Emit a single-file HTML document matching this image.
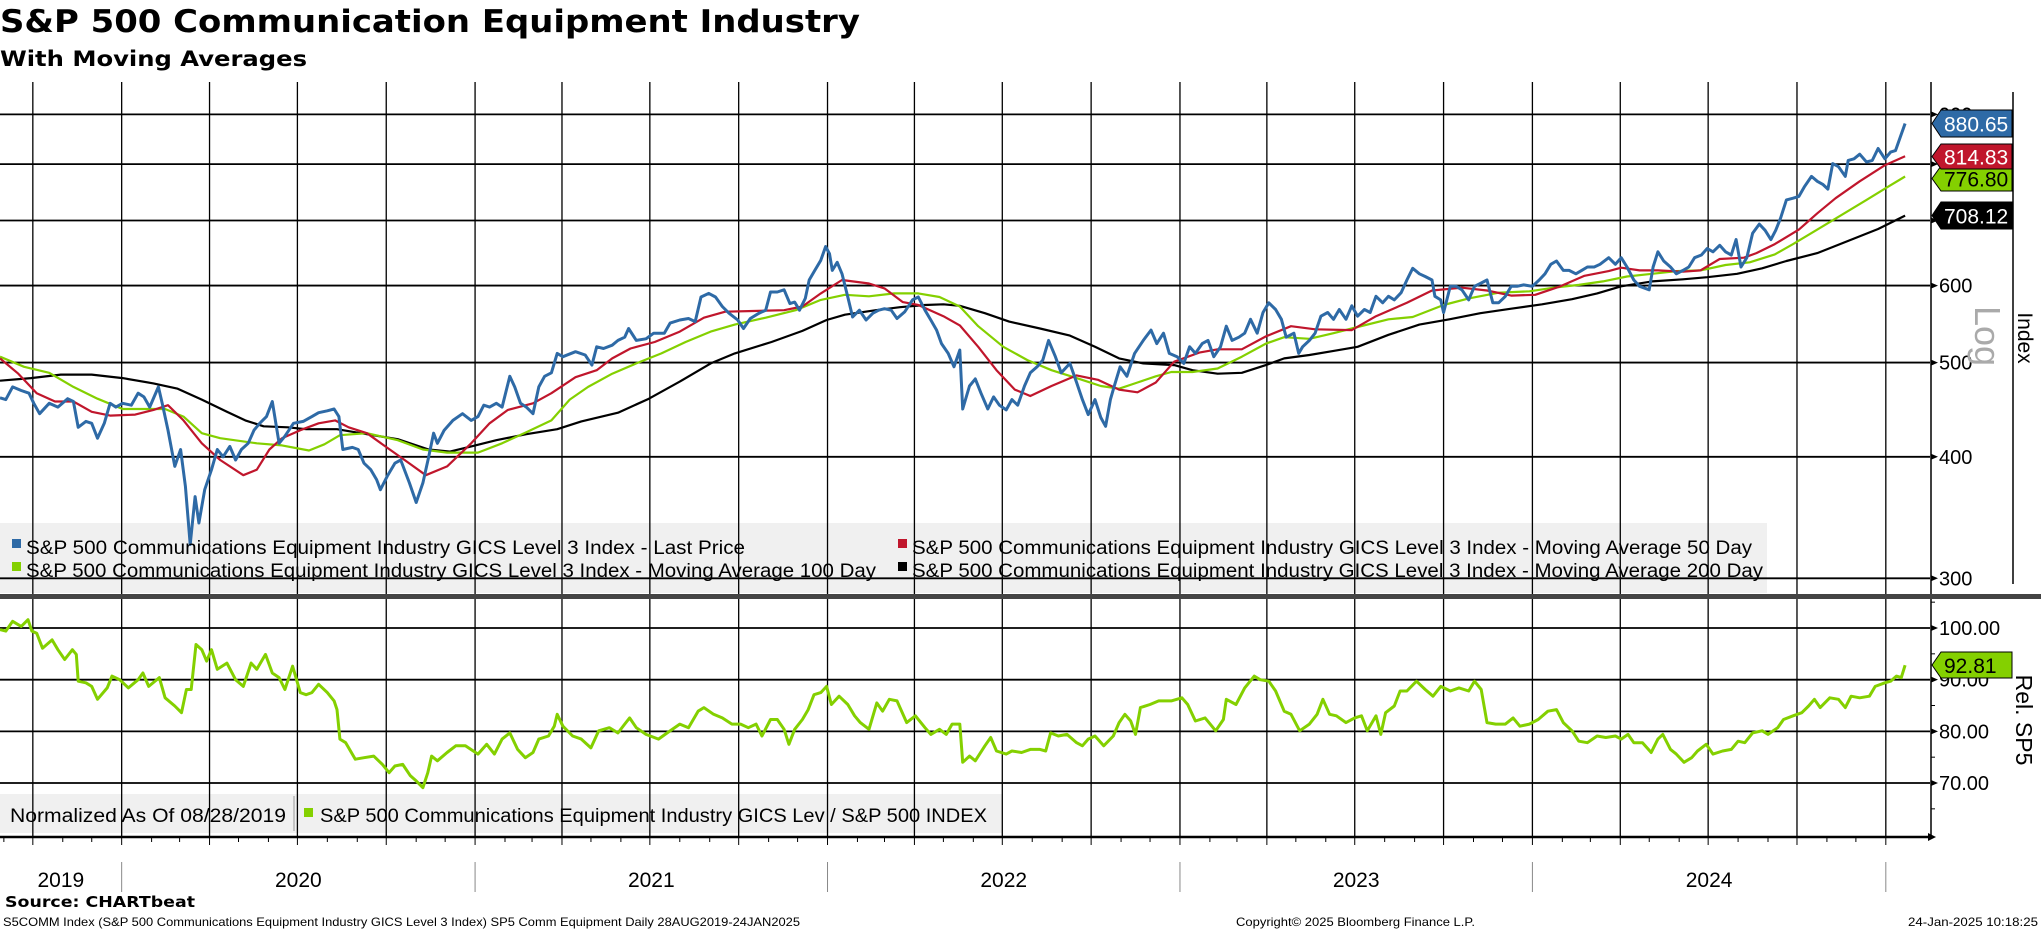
<!DOCTYPE html>
<html><head><meta charset="utf-8">
<style>
html,body{margin:0;padding:0;background:#fff;}
svg{display:block;font-family:"Liberation Sans","DejaVu Sans",sans-serif;}
</style></head>
<body>
<svg id="chart" width="2041" height="932" viewBox="0 0 2041 932" xmlns="http://www.w3.org/2000/svg">
  <text x="0" y="32" font-family="DejaVu Sans, sans-serif" font-weight="bold" font-size="31" textLength="860" lengthAdjust="spacingAndGlyphs">S&amp;P 500 Communication Equipment Industry</text>
  <text x="0" y="66" font-family="DejaVu Sans, sans-serif" font-weight="bold" font-size="21" textLength="307" lengthAdjust="spacingAndGlyphs">With Moving Averages</text>

  <rect x="0" y="523" width="1767" height="70" fill="#f0f0f0"/>
  <rect x="0" y="794" width="1003" height="39" fill="#f0f0f0"/>

  <g id="grid"></g>
  <g id="series"></g>

  <rect x="0" y="594" width="2041" height="5" fill="#444"/>
  <line x1="2013" y1="92" x2="2013" y2="584" stroke="#000" stroke-width="1.5"/>

  <g font-size="19">
    <g>
      <rect x="12" y="539" width="9" height="9" fill="#2e6aa6"/>
      <text x="26" y="554" textLength="719" lengthAdjust="spacingAndGlyphs">S&amp;P 500 Communications Equipment Industry GICS Level 3 Index - Last Price</text>
    </g>
    <g>
      <rect x="898" y="539" width="9" height="9" fill="#c0162c"/>
      <text x="912" y="554" textLength="840" lengthAdjust="spacingAndGlyphs">S&amp;P 500 Communications Equipment Industry GICS Level 3 Index - Moving Average 50 Day</text>
    </g>
    <g>
      <rect x="12" y="562" width="9" height="9" fill="#84d000"/>
      <text x="26" y="577" textLength="850" lengthAdjust="spacingAndGlyphs">S&amp;P 500 Communications Equipment Industry GICS Level 3 Index - Moving Average 100 Day</text>
    </g>
    <g>
      <rect x="898" y="562" width="9" height="9" fill="#000"/>
      <text x="912" y="577" textLength="851" lengthAdjust="spacingAndGlyphs">S&amp;P 500 Communications Equipment Industry GICS Level 3 Index - Moving Average 200 Day</text>
    </g>
  </g>

  <g font-size="19">
    <text x="10" y="822" textLength="276" lengthAdjust="spacingAndGlyphs">Normalized As Of 08/28/2019</text>
    <line x1="294" y1="796" x2="294" y2="831" stroke="#999" stroke-width="1"/>
    <g>
      <rect x="304" y="808" width="9" height="9" fill="#84d000"/>
      <text x="320" y="822" textLength="667" lengthAdjust="spacingAndGlyphs">S&amp;P 500 Communications Equipment Industry GICS Lev / S&amp;P 500 INDEX</text>
    </g>
  </g>

  <g id="axes"></g>

  <text transform="translate(1975,336) rotate(90)" text-anchor="middle" font-size="36" fill="#aaa">Log</text>
  <text transform="translate(2018,338) rotate(90)" text-anchor="middle" font-size="21">Index</text>
  <text transform="translate(2016,720) rotate(90)" text-anchor="middle" font-size="23">Rel. SP5</text>

  <g id="tags"></g>

  <text x="5" y="907" font-family="DejaVu Sans, sans-serif" font-weight="bold" font-size="15" textLength="190" lengthAdjust="spacingAndGlyphs">Source: CHARTbeat</text>
  <text x="3" y="926" font-size="12" textLength="797" lengthAdjust="spacingAndGlyphs">S5COMM Index (S&amp;P 500 Communications Equipment Industry GICS Level 3 Index) SP5 Comm Equipment  Daily 28AUG2019-24JAN2025</text>
  <text x="1236" y="926" font-size="12" textLength="239" lengthAdjust="spacingAndGlyphs">Copyright© 2025 Bloomberg Finance L.P.</text>
  <text x="1908" y="926" font-size="12" textLength="130" lengthAdjust="spacingAndGlyphs">24-Jan-2025 10:18:25</text>
</svg>
<script>
// ---- data (day offsets from 2019-08-28) ----
const priceDays = [0,6,13,22,30,35,41,51,60,70,76,81,89,95,101,108,114,120,127,136,143,149,155,164,168,174,181,187,192,197,202,206,212,219,225,231,238,244,250,257,263,269,276,282,289,295,304,314,323,330,339,346,351,355,365,371,377,384,390,394,401,409,415,424,431,438,444,449,453,460,469,479,488,495,501,507,514,520,528,533,539,545,552,558,564,571,577,583,596,606,613,618,625,634,640,647,651,659,669,677,688,694,704,713,720,726,734,741,748,755,764,770,777,786,793,798,805,812,818,823,828,834,838,843,850,855,859,862,867,872,878,883,890,897,904,910,916,923,929,937,945,951,958,964,970,975,982,988,994,997,1004,1010,1016,1023,1029,1035,1042,1048,1054,1061,1067,1074,1080,1086,1093,1099,1108,1115,1121,1127,1134,1140,1145,1150,1154,1160,1167,1175,1184,1192,1198,1205,1211,1219,1226,1232,1238,1245,1251,1257,1264,1270,1276,1283,1289,1295,1302,1308,1314,1321,1327,1332,1340,1345,1349,1356,1362,1368,1375,1381,1387,1394,1400,1406,1413,1419,1425,1432,1438,1444,1451,1457,1463,1470,1476,1483,1486,1492,1495,1502,1508,1514,1521,1527,1533,1540,1546,1552,1559,1565,1571,1578,1587,1594,1600,1606,1612,1619,1625,1632,1638,1644,1651,1657,1666,1673,1679,1685,1692,1698,1708,1712,1717,1723,1730,1736,1743,1749,1755,1762,1768,1774,1781,1787,1793,1798,1803,1809,1815,1822,1828,1834,1839,1844,1850,1857,1863,1869,1876,1882,1888,1893,1898,1904,1911,1914,1920,1926,1933,1939,1945,1952,1958,1963,1968,1973];
const priceVals = [460,458,472,468,465,454,443,454,450,459,456,429,435,433,418,433,454,450,454,452,465,461,450,472,454,426,391,407,373,325,364,342,370,388,407,400,410,397,407,413,426,433,440,456,413,420,433,435,440,444,446,448,440,407,409,407,394,388,379,370,382,394,397,376,359,376,400,423,413,426,436,443,436,440,452,450,454,450,484,472,454,450,443,472,484,488,511,507,513,509,497,519,517,521,527,531,542,527,529,536,536,549,553,555,551,584,589,584,571,562,553,542,555,562,566,591,591,594,575,577,566,582,608,620,637,658,647,622,634,617,584,557,566,553,562,566,568,566,555,564,580,584,566,553,540,523,511,495,515,448,473,481,465,448,461,452,447,458,452,473,488,495,503,527,507,488,499,477,458,442,458,439,430,458,473,495,484,511,527,540,523,536,511,507,499,519,511,523,527,507,519,545,527,531,536,554,536,563,576,567,554,531,536,511,519,527,536,558,563,554,567,554,572,558,567,563,585,576,585,580,590,608,625,617,613,608,585,580,563,599,599,594,580,599,603,608,576,576,585,599,599,601,599,608,617,631,636,622,622,617,622,627,627,631,641,631,641,627,608,599,594,627,650,636,627,617,622,627,641,645,655,650,660,650,645,669,627,641,679,694,684,669,684,704,735,738,741,759,777,768,762,754,801,795,777,807,810,819,804,807,830,810,823,826,853,880.65];

const ma50Days = [0,19,38,57,76,95,114,140,159,174,190,209,228,252,266,279,292,311,330,347,361,380,399,419,441,463,488,507,526,552,571,596,618,634,653,678,704,729,751,780,812,831,850,872,900,916,935,951,977,994,1013,1032,1051,1067,1089,1115,1137,1159,1178,1197,1216,1242,1261,1286,1311,1337,1362,1400,1425,1457,1483,1514,1540,1565,1590,1616,1641,1666,1679,1698,1717,1743,1761,1781,1806,1819,1838,1863,1882,1901,1926,1952,1973];
const ma50Vals = [505,487,465,456,456,445,441,442,447,452,436,413,397,383,388,407,418,426,433,436,429,423,410,397,383,391,413,433,447,454,465,483,491,505,517,525,538,556,564,565,566,571,589,608,603,596,577,573,558,546,519,491,469,462,473,485,480,469,466,477,501,512,516,516,532,545,541,540,558,576,593,597,593,586,587,599,614,621,626,622,622,620,622,639,641,648,662,685,712,738,768,798,814.83];

const ma100Days = [0,25,51,76,101,127,152,171,190,209,228,266,292,320,336,352,380,412,438,463,495,520,545,571,590,609,634,659,685,710,736,761,793,824,850,875,900,926,951,973,994,1013,1039,1064,1089,1115,1140,1159,1178,1197,1213,1235,1261,1286,1311,1330,1356,1381,1406,1438,1463,1495,1521,1552,1584,1609,1635,1660,1685,1711,1736,1761,1787,1812,1838,1857,1882,1907,1933,1955,1973];
const ma100Vals = [507,495,488,472,459,448,448,448,440,423,418,413,411,406,412,421,423,416,407,404,404,413,424,436,458,472,487,499,511,525,538,547,556,566,580,587,585,589,589,584,571,545,519,503,491,482,473,470,477,484,489,489,493,507,523,531,529,536,544,554,557,573,582,590,592,597,601,606,613,617,621,622,630,634,646,662,685,709,735,758,776.80];

const ma200Days = [0,32,63,95,127,159,184,209,235,254,273,298,317,349,380,412,444,466,488,514,545,577,602,640,672,704,736,761,799,831,856,875,907,932,958,977,994,1020,1045,1077,1108,1134,1159,1184,1216,1235,1261,1286,1311,1330,1356,1381,1406,1438,1470,1501,1533,1565,1597,1628,1654,1679,1711,1743,1768,1799,1825,1850,1882,1914,1945,1973];
const ma200Vals = [479,482,486,486,482,476,470,458,445,436,430,429,427,427,422,417,407,405,410,416,422,427,435,444,459,478,499,511,525,539,553,560,566,570,573,574,572,562,551,542,533,519,505,499,497,491,487,488,497,505,509,514,519,534,547,554,562,568,574,581,589,599,606,609,612,617,625,636,648,667,686,708.12];

const relDays = [0,6,13,22,29,33,38,44,54,60,67,75,79,81,89,95,101,111,116,124,133,143,148,154,165,171,181,188,193,198,203,209,214,219,225,235,244,252,260,266,275,282,289,295,303,311,317,323,330,339,346,349,352,358,368,377,387,396,403,409,417,425,431,438,443,447,453,463,472,482,495,504,512,520,528,536,544,552,558,568,574,577,583,593,602,612,620,631,640,647,652,659,669,682,691,704,713,723,729,739,748,758,767,775,783,789,798,805,812,817,823,831,837,843,850,856,861,869,878,885,891,900,908,914,921,929,939,948,958,964,973,980,986,994,997,1004,1010,1020,1026,1032,1042,1048,1058,1067,1077,1083,1088,1096,1105,1115,1121,1127,1134,1143,1153,1159,1165,1171,1176,1181,1191,1200,1213,1224,1230,1238,1248,1259,1267,1270,1280,1289,1299,1305,1314,1321,1330,1337,1346,1356,1364,1370,1377,1384,1394,1403,1410,1416,1425,1430,1435,1444,1450,1457,1467,1476,1484,1492,1502,1511,1521,1527,1534,1540,1549,1559,1567,1574,1584,1593,1603,1612,1619,1628,1635,1644,1654,1663,1673,1679,1686,1692,1701,1710,1717,1722,1730,1736,1744,1752,1758,1767,1774,1784,1793,1800,1807,1815,1825,1831,1841,1847,1857,1866,1873,1879,1885,1895,1904,1911,1917,1926,1936,1942,1952,1958,1964,1969,1973];
const relVals = [99.7,99.4,101.3,100.3,101.6,99.4,99.0,96.1,97.7,95.8,93.9,95.8,94.9,89.7,89.4,88.7,86.2,88.4,90.7,90.0,88.4,90.0,91.3,88.7,90.4,86.5,84.9,83.6,88.1,88.1,96.8,95.8,93.6,95.8,92.0,93.2,90.0,88.7,93.2,92.0,94.9,91.3,90.4,88.1,92.6,87.5,87.1,87.5,89.1,87.5,85.9,84.2,78.5,77.8,74.6,74.9,75.2,73.6,72.0,73.3,73.6,71.4,70.4,69.1,72.0,75.2,74.3,75.9,77.2,77.2,75.6,77.5,75.6,78.5,79.7,76.5,74.9,75.9,78.5,79.1,81.0,83.3,81.0,79.1,78.5,76.8,80.1,80.7,79.7,81.4,82.6,80.7,79.4,78.5,79.7,81.4,80.7,83.9,84.6,83.3,82.6,81.4,81.4,80.7,81.4,79.1,82.3,82.3,80.4,77.5,80.4,82.3,84.2,87.1,87.5,88.7,85.2,86.8,85.2,83.0,81.7,80.4,85.5,83.9,86.2,85.9,81.7,83.0,80.7,79.4,80.4,79.4,81.4,81.4,74.0,75.2,74.3,77.2,78.8,76.2,75.6,76.2,75.9,76.5,76.5,76.2,79.7,79.1,79.4,77.8,77.2,78.5,79.1,77.2,79.1,81.7,83.3,82.0,79.4,84.6,85.2,85.9,85.9,86.5,85.2,82.0,82.6,80.1,82.3,86.2,85.2,88.4,90.7,90.0,89.7,87.8,83.9,83.3,80.1,81.4,83.3,86.2,83.3,83.0,81.7,82.6,83.0,80.1,83.0,79.4,83.6,84.9,87.8,87.8,89.7,88.1,86.8,88.7,87.8,88.4,87.8,89.7,88.1,81.7,81.4,81.4,82.6,81.0,81.4,82.3,83.9,84.2,81.7,80.1,78.1,77.8,79.1,78.8,79.1,78.5,79.4,77.8,77.8,75.9,78.5,79.4,76.5,75.6,74.0,74.9,76.2,77.5,75.6,76.2,76.5,78.1,77.8,79.7,80.1,79.4,80.7,82.3,83.0,83.6,84.9,86.2,84.6,86.5,86.2,84.6,86.8,86.5,86.8,88.7,89.4,89.7,90.7,90.4,92.81];

const upperTicks = [300,400,500,600,700,800,900];
const upperTickLabels = ["300","400","500","600","700","800","900"];
const lowerTicks = [70,80,90,100];
const lowerTickLabels = ["70.00","80.00","90.00","100.00"];
const yearLabels = ["2019","2020","2021","2022","2023","2024"];

// ---- scales ----
const NS = "http://www.w3.org/2000/svg";
const PX_PER_DAY = 0.9656;
const START = Date.UTC(2019,7,28);
function xDay(d){ return d*PX_PER_DAY; }
function xDate(y,m){ return xDay((Date.UTC(y,m,1)-START)/86400000); }
function yUp(v){ return 578.3 - 422.3*Math.log(v/300); }
function yLow(v){ return 628 + (100 - v)*5.167; }
function mk(tag, attrs, parent){
  const e = document.createElementNS(NS, tag);
  for (const k in attrs) e.setAttribute(k, attrs[k]);
  parent.appendChild(e);
  return e;
}
const grid = document.getElementById('grid');
const series = document.getElementById('series');
const axes = document.getElementById('axes');
const tags = document.getElementById('tags');

// horizontal gridlines
upperTicks.forEach((v,i)=>{
  const l = mk('line',{x1:0,x2:1930,y1:yUp(v),y2:yUp(v),stroke:'#000','stroke-width':1.8},grid);
  
  
});
lowerTicks.forEach((v,i)=>{
  const l = mk('line',{x1:0,x2:1930,y1:yLow(v),y2:yLow(v),stroke:'#000','stroke-width':1.8},grid);
  
  
});
// vertical quarter gridlines & month ticks
for (let y=2019; y<=2025; y++){
  for (let m=0; m<12; m++){
    const x = xDate(y,m);
    if (x < 0 || x > 1905) continue;
    if (m % 3 === 0){
      const l = mk('line',{x1:x,x2:x,y1:82,y2:838,stroke:'#000','stroke-width':1.3},grid);
      
      
    }
    const t = mk('line',{x1:x,x2:x,y1:838,y2:(m%3===0?845:842),stroke:'#000','stroke-width':1},axes);
    
    
  }
}
// bottom axis
const ax = mk('line',{x1:0,x2:1930,y1:837,y2:837,stroke:'#000','stroke-width':2.5},axes);


const arr = mk('polygon',{points:'1928,833 1936,837 1928,841',fill:'#000'},axes);


// year separators & labels
for (let i=0;i<yearLabels.length;i++){
  const yr = 2019+i;
  const x0 = yr===2019 ? 0 : xDate(yr,0);
  const x1 = xDate(yr+1,0);
  if (yr>2019){
    const s = mk('line',{x1:x0,x2:x0,y1:862,y2:892,stroke:'#888','stroke-width':1},axes);
    
    
  }
  const t = mk('text',{x:(x0+x1)/2,y:887,'text-anchor':'middle','font-size':21},axes);
  
  
  t.textContent = yearLabels[i];
}
{
  const s = mk('line',{x1:xDate(2025,0),x2:xDate(2025,0),y1:862,y2:892,stroke:'#888','stroke-width':1},axes);
  
  
}
// right axes
const ra = mk('line',{x1:1931,x2:1931,y1:82,y2:594,stroke:'#000','stroke-width':1.5},axes);


const rb = mk('line',{x1:1931,x2:1931,y1:599,y2:837,stroke:'#000','stroke-width':1.5},axes);


upperTicks.forEach((v,i)=>{
  const y = yUp(v);
  const p = mk('polygon',{points:`1931,${y-3} 1938,${y} 1931,${y+3}`,fill:'#000'},axes);
  
  
  const t = mk('text',{x:1939,y:y+7,'font-size':20},axes);
  
  
  t.textContent = upperTickLabels[i];
});
for (let v=65; v<=105; v+=5){
  const y = yLow(v);
  const p = mk('line',{x1:1931,x2:1935,y1:y,y2:y,stroke:'#000','stroke-width':1},axes);
  
  
}
lowerTicks.forEach((v,i)=>{
  const y = yLow(v);
  const p = mk('polygon',{points:`1931,${y-3} 1938,${y} 1931,${y+3}`,fill:'#000'},axes);
  
  
  const t = mk('text',{x:1939,y:y+7,'font-size':20},axes);
  
  
  t.textContent = lowerTickLabels[i];
});

// series
function line(days, vals, yf, color, w, name){
  const d = days.map((dd,i)=>(i?'L':'M')+xDay(dd).toFixed(1)+','+yf(vals[i]).toFixed(1)).join('');
  const p = mk('path',{d:d,fill:'none',stroke:color,'stroke-width':w,'stroke-linejoin':'round'},series);
  
  
}
line(ma200Days, ma200Vals, yUp, '#000', 2.2, 'ma200-line');
line(ma100Days, ma100Vals, yUp, '#84d000', 2.2, 'ma100-line');
line(ma50Days, ma50Vals, yUp, '#c0162c', 2.2, 'ma50-line');
line(priceDays, priceVals, yUp, '#2e6aa6', 3, 'last-price-line');
line(relDays, relVals, yLow, '#84d000', 3, 'relative-line');

// value tags
function tag(yTop, yBot, fill, textColor, label, name){
  const c = (yTop+yBot)/2;
  const p = mk('polygon',{points:`1932,${c} 1941,${yTop} 2012,${yTop} 2012,${yBot} 1941,${yBot}`,fill:fill,stroke:'#000','stroke-width':1},tags);
  
  
  const t = mk('text',{x:1944,y:c+8,'font-size':21,fill:textColor},tags);
  
  
  t.textContent = label;
}
tag(110,137,'#2e6aa6','#fff',priceVals[priceVals.length-1].toFixed(2),'last-price');
tag(166,191,'#84d000','#000',ma100Vals[ma100Vals.length-1].toFixed(2),'ma100');
tag(144,169,'#c0162c','#fff',ma50Vals[ma50Vals.length-1].toFixed(2),'ma50');
tag(202,229,'#000','#fff',ma200Vals[ma200Vals.length-1].toFixed(2),'ma200');
tag(652,678,'#84d000','#000',relVals[relVals.length-1].toFixed(2),'relative');
</script>
</body></html>
